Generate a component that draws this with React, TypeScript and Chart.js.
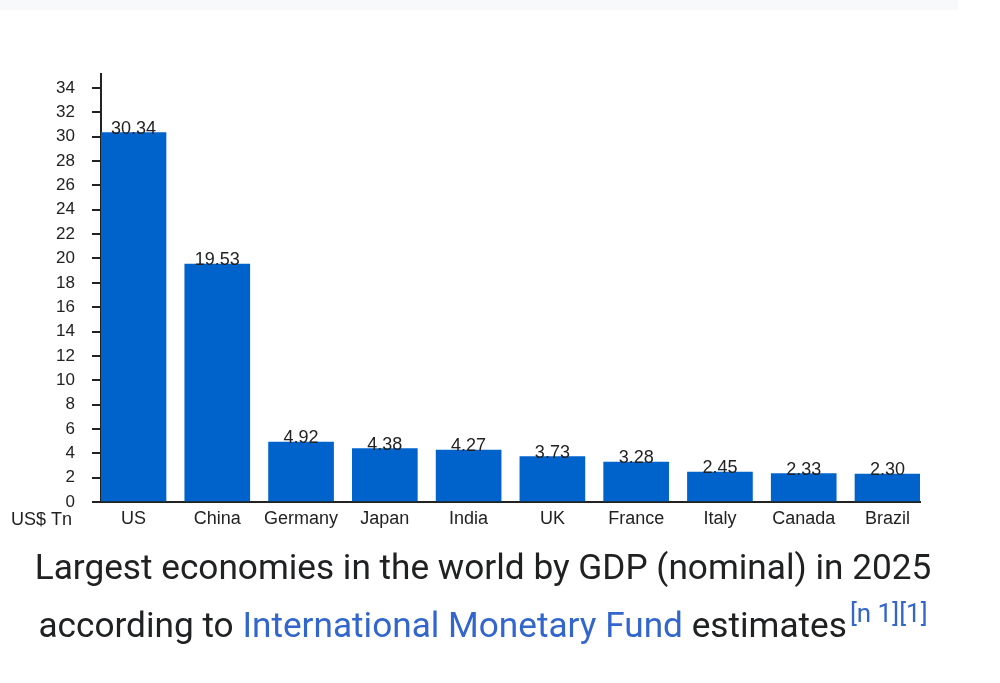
import React, { useEffect, useRef } from "react";
import { Chart, registerables } from "chart.js";

Chart.register(...registerables);

const categories = ["US", "China", "Germany", "Japan", "India", "UK", "France", "Italy", "Canada", "Brazil"];
const gdpValues = [30.34, 19.53, 4.92, 4.38, 4.27, 3.73, 3.28, 2.45, 2.33, 2.3];
const yMax = 35.15;
const yStep = 2;
const unitLabel = "US$ Tn";
const captionLine1 = "Largest economies in the world by GDP (nominal) in 2025";
const captionPre = "according to ";
const captionLink = "International Monetary Fund";
const captionPost = " estimates";
const captionRefs = "[n 1][1]";

const TEXT = "#222222";
const BAR = "#0063cc";
const AXIS_FONT = "'Liberation Sans', Arial, Helvetica, sans-serif";

const valueLabelPlugin = {
  id: "valueLabels",
  afterDatasetsDraw(chart: any) {
    const ctx = chart.ctx;
    const meta = chart.getDatasetMeta(0);
    ctx.save();
    ctx.font = `18px ${AXIS_FONT}`;
    ctx.fillStyle = TEXT;
    ctx.textAlign = "center";
    ctx.textBaseline = "alphabetic";
    meta.data.forEach((bar: any, i: number) => {
      ctx.fillText(gdpValues[i].toFixed(2), bar.x, bar.y + 1);
    });
    const xs = chart.scales.x;
    ctx.textAlign = "right";
    ctx.textBaseline = "middle";
    ctx.fillText(unitLabel, chart.chartArea.left - 29, xs.top + 18);
    ctx.restore();
  },
};

export default function App() {
  const ref = useRef<HTMLCanvasElement | null>(null);

  useEffect(() => {
    if (!ref.current) return;
    const chart = new Chart(ref.current, {
      type: "bar",
      data: {
        datasets: [
          {
            data: gdpValues.map((v, i) => ({ x: i, y: v })),
            backgroundColor: BAR,
            borderWidth: 0,
            barThickness: 65,
          },
        ],
      },
      options: {
        animation: false,
        responsive: false,
        maintainAspectRatio: false,
        layout: { padding: { top: 14, right: 20, left: 0, bottom: 0 } },
        plugins: { legend: { display: false }, tooltip: { enabled: false } },
        scales: {
          x: {
            type: "linear",
            offset: false,
            min: -0.388,
            max: 9.388,
            afterBuildTicks(scale: any) {
              scale.ticks = categories.map((_, i) => ({ value: i }));
            },
            afterFit(scale: any) {
              scale.height = 38;
              scale.paddingLeft = 0;
              scale.paddingRight = 0;
            },
            grid: { display: false, drawTicks: false, offset: false },
            border: { display: true, color: TEXT, width: 2 },
            ticks: {
              autoSkip: false,
              maxRotation: 0,
              padding: 6,
              color: TEXT,
              font: { family: AXIS_FONT, size: 18 },
              callback: (v: any) => categories[Math.round(Number(v))] ?? "",
            },
          },
          y: {
            min: 0,
            max: yMax,
            afterBuildTicks(scale: any) {
              const t: any[] = [];
              for (let v = 0; v <= yMax; v += yStep) t.push({ value: v });
              scale.ticks = t;
            },
            afterFit(scale: any) {
              scale.width = 101;
              scale.paddingTop = 0;
              scale.paddingBottom = 0;
            },
            grid: {
              drawOnChartArea: false,
              drawTicks: true,
              tickLength: 9,
              color: TEXT,
              lineWidth: 2,
            },
            border: { display: true, color: TEXT, width: 2 },
            ticks: {
              stepSize: yStep,
              includeBounds: false,
              padding: 17,
              color: TEXT,
              font: { family: AXIS_FONT, size: 17 },
              callback: (v: any) => String(v),
            },
          },
        },
      },
      plugins: [valueLabelPlugin],
    } as any);
    return () => chart.destroy();
  }, []);

  return (
    <div
      style={{
        position: "fixed",
        left: 0,
        top: 0,
        width: 1000,
        height: 683,
        background: "#ffffff",
        overflow: "hidden",
      }}
    >
      <div style={{ position: "absolute", left: 0, top: 0, width: 958, height: 10, background: "#f8f9fa" }} />
      <canvas
        ref={ref}
        width={940}
        height={480}
        style={{ position: "absolute", left: 0, top: 60, width: 940, height: 480 }}
      />
      <div
        style={{
          position: "absolute",
          left: 0,
          top: 538,
          width: 966,
          textAlign: "center",
          fontFamily: "Roboto, 'Liberation Sans', sans-serif",
          fontSize: 35.2,
          lineHeight: "58px",
          color: "#202122",
        }}
      >
        <div>{captionLine1}</div>
        <div>
          {captionPre}
          <span style={{ color: "#3366cc" }}>{captionLink}</span>
          {captionPost}
          <sup style={{ color: "#3366cc", fontSize: 26, lineHeight: 0, verticalAlign: "15px", marginLeft: 3 }}>{captionRefs}</sup>
        </div>
      </div>
    </div>
  );
}
